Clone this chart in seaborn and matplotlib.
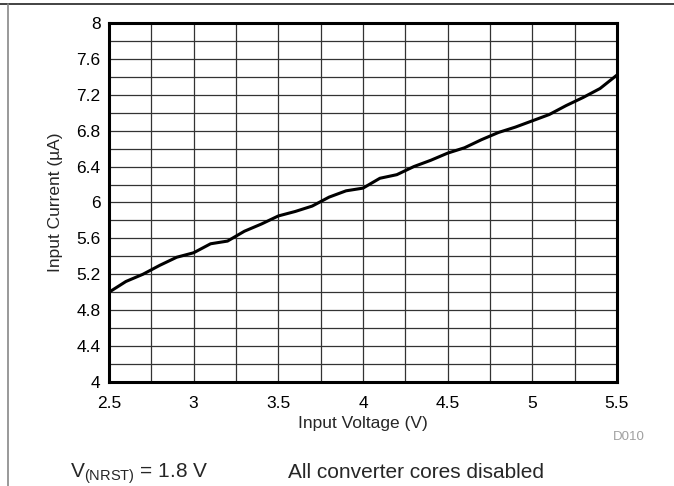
import matplotlib
matplotlib.use("Agg")
import matplotlib.pyplot as plt
from matplotlib.lines import Line2D
import numpy as np
import pandas as pd
import seaborn as sns

# input voltage (V) vs input current (uA)
voltage = [2.5, 2.6, 2.7, 2.8, 2.9, 3.0, 3.1, 3.2, 3.3, 3.4, 3.5,
           3.6, 3.7, 3.8, 3.9, 4.0, 4.1, 4.2, 4.3, 4.4, 4.5,
           4.6, 4.7, 4.8, 4.9, 5.0, 5.1, 5.2, 5.3, 5.4, 5.5]
current = [5.00, 5.12, 5.20, 5.30, 5.39, 5.44, 5.54, 5.57, 5.68, 5.76, 5.85,
           5.90, 5.96, 6.06, 6.13, 6.16, 6.27, 6.31, 6.40, 6.47, 6.55,
           6.61, 6.70, 6.78, 6.84, 6.91, 6.98, 7.08, 7.17, 7.27, 7.42]
x_ticks = [2.5, 3, 3.5, 4, 4.5, 5, 5.5]
y_ticks = [4, 4.4, 4.8, 5.2, 5.6, 6, 6.4, 6.8, 7.2, 7.6, 8]

sns.set_theme(style="white")
plt.rcParams["font.family"] = ["Liberation Sans", "DejaVu Sans"]
plt.rcParams["mathtext.default"] = "regular"

df = pd.DataFrame({"Input Voltage (V)": voltage, "Input Current (µA)": current})

fig = plt.figure(figsize=(6.74, 4.86), dpi=100)
ax = fig.add_axes([0.1617, 0.214, 0.9154 - 0.1617, 0.9527 - 0.214])

# fine grid: 0.25 V by 0.2 uA
for xv in np.arange(2.75, 5.5, 0.25):
    ax.axvline(xv, color="#333333", lw=0.9, zorder=1)
for yv in np.arange(4.2, 8.0, 0.2):
    ax.axhline(yv, color="#333333", lw=0.9, zorder=1)

sns.lineplot(data=df, x="Input Voltage (V)", y="Input Current (µA)",
             color="black", linewidth=2.2, ax=ax, zorder=3)

ax.set_xlim(2.5, 5.5)
ax.set_ylim(4, 8)
ax.set_xticks(x_ticks)
ax.set_xticklabels([f"{v:g}" for v in x_ticks])
ax.set_yticks(y_ticks)
ax.set_yticklabels([f"{v:g}" for v in y_ticks])
ax.tick_params(length=0, labelsize=12.5, colors="black")
ax.tick_params(axis="x", pad=10)
ax.tick_params(axis="y", pad=6)
ax.set_xlabel("Input Voltage (V)", fontsize=12.5)
ax.set_ylabel("Input Current (µA)", fontsize=12.5)
ax.xaxis.set_label_coords(0.5, -0.095)
ax.yaxis.set_label_coords(-0.09, 0.5)
for s in ax.spines.values():
    s.set_color("black")
    s.set_linewidth(2.2)

fig.text(0.933, 0.1, "D010", fontsize=9.5, color="#a0a0a0", ha="center", va="center")
fig.text(0.104, 0.0165, "V$_{(NRST)}$ = 1.8 V", fontsize=15, ha="left", va="baseline")
fig.text(0.427, 0.0165, "All converter cores disabled", fontsize=15, ha="left", va="baseline")

# datasheet frame lines
fig.add_artist(Line2D([0, 1], [1 - 4 / 486, 1 - 4 / 486], color="#222222", lw=1.2))
fig.add_artist(Line2D([8 / 674, 8 / 674], [0, 1 - 4 / 486], color="#888888", lw=1.2))

fig.savefig("out.png", dpi=100)
